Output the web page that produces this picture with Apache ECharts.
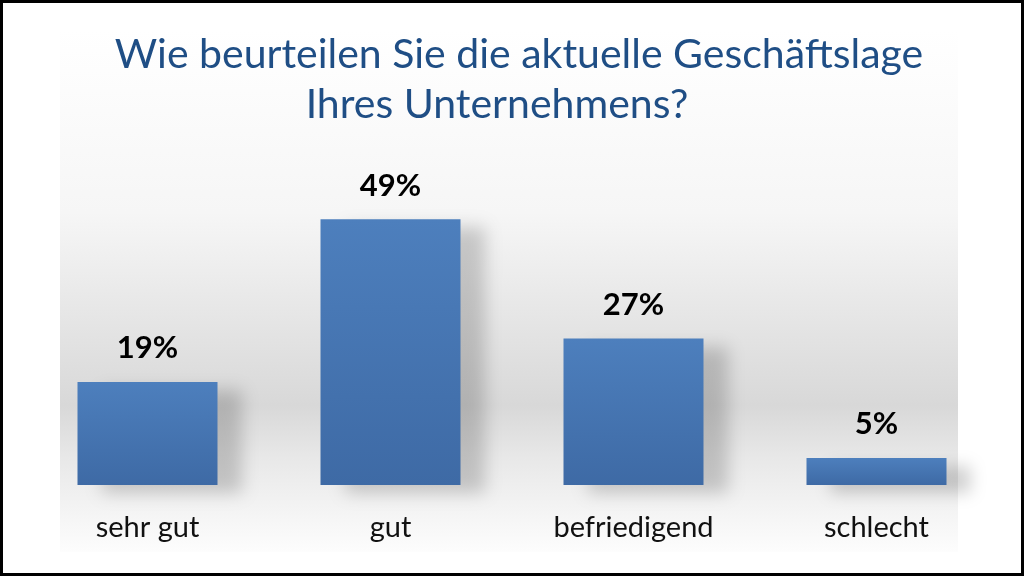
<!DOCTYPE html>
<html>
<head>
<meta charset="utf-8">
<script src="https://cdn.jsdelivr.net/npm/echarts@6/dist/echarts.min.js"></script>
<style>
  html, body { margin: 0; padding: 0; background: #fff; }
  #main { width: 1024px; height: 576px; }
</style>
</head>
<body>
<div id="main"></div>
<script>
// Daten
const categories = ['sehr gut', 'gut', 'befriedigend', 'schlecht'];
const values = [19, 49, 27, 5];
const titleLines = ['Wie beurteilen Sie die aktuelle Geschäftslage', 'Ihres Unternehmens?'];

const myChart = echarts.init(document.getElementById('main'));

const barColor = new echarts.graphic.LinearGradient(0, 0, 0, 1, [
  { offset: 0, color: '#4d7fbd' },
  { offset: 1, color: '#3e6aa5' }
]);

// Titelzeilen einzeln zentriert
const titleCenters = [519, 497];
const titleTexts = titleLines.map((line, i) => ({
  type: 'text',
  x: titleCenters[i],
  y: 55 + i * 50,
  style: {
    text: line,
    fill: '#1f4e85',
    font: '41px Lato',
    align: 'center',
    verticalAlign: 'middle'
  }
}));

const option = {
  animation: false,
  graphic: [
    {
      type: 'rect',
      z: -10,
      shape: { x: 60, y: 30, width: 898, height: 522 },
      style: {
        fill: new echarts.graphic.LinearGradient(0, 0, 0, 1, [
          { offset: 0, color: '#ffffff' },
          { offset: 0.35, color: '#f6f6f6' },
          { offset: 0.72, color: '#d8d8d8' },
          { offset: 0.82, color: '#e8e8e8' },
          { offset: 1, color: '#fdfdfd' }
        ])
      }
    },
    {
      type: 'rect',
      z: 100,
      shape: { x: 1.5, y: 1.5, width: 1021, height: 573 },
      style: { fill: 'none', stroke: '#000', lineWidth: 3 }
    }
  ].concat(titleTexts),
  grid: { left: 26, right: 26, top: 100, bottom: 91 },
  xAxis: {
    type: 'category',
    data: categories,
    axisLine: { show: false },
    axisTick: { show: false },
    axisLabel: {
      margin: 28,
      fontFamily: 'Lato',
      fontSize: 29,
      color: '#111'
    }
  },
  yAxis: {
    type: 'value',
    min: 0,
    max: 71,
    show: false
  },
  series: [{
    type: 'bar',
    data: values,
    barWidth: 140,
    itemStyle: {
      color: barColor,
      shadowColor: 'rgba(0,0,0,0.18)',
      shadowBlur: 16,
      shadowOffsetX: 24,
      shadowOffsetY: 8
    },
    label: {
      show: true,
      position: 'top',
      distance: 18,
      formatter: '{c}%',
      fontFamily: 'Lato',
      fontWeight: 'bold',
      fontSize: 31,
      color: '#000'
    }
  }]
};

myChart.setOption(option);
</script>
</body>
</html>
